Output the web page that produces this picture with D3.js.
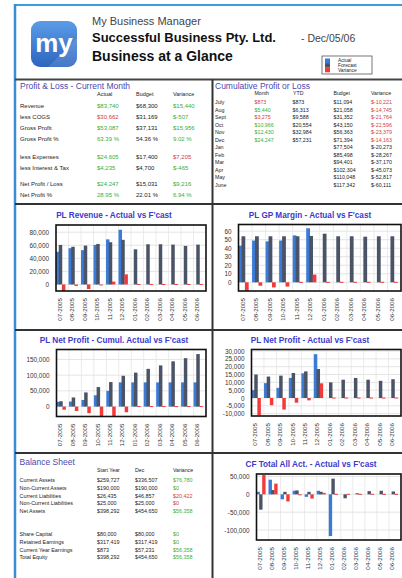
<!DOCTYPE html>
<html>
<head>
<meta charset="utf-8">
<script src="https://d3js.org/d3.v7.min.js"></script>
<style>
  body { margin: 0; background: #fff; }
  svg { display: block; font-family: "Liberation Sans", Arial, sans-serif; }
  .tbl-title { font-size: 8.5px; fill: #4a4aae; }
  .chart-title { font-size: 8.2px; font-weight: bold; fill: #3b3bcc; }
  .tick text { font-size: 6.4px; fill: #333; }
  .xlab { font-size: 6.2px; fill: #333; }
</style>
</head>
<body>
<div id="dash"></div>
<script>
// ---------- data ----------
var months = ["07-2005","08-2005","09-2005","10-2005","11-2005","12-2005",
              "01-2006","02-2006","03-2006","04-2006","05-2006","06-2006"];

var revActual   = [50000, 55500, 52500, 60500, 69000, 83740, 0, 0, 0, 0, 0, 0];
var revForecast = [60500, 57700, 59500, 62000, 64600, 68300, 53800, 61500, 61500, 61000, 59000, 61000];
var revVariance = [-10500, -2200, -7000, -1500, 4400, 15440, 0, 0, 0, 0, 0, 0];
var revTicks = [0, 20000, 40000, 60000, 80000];

var gpActual   = [43, 49, 48, 49, 55, 63.39, 0, 0, 0, 0, 0, 0];
var gpForecast = [54, 54, 54, 54, 54, 54.36, 57, 54, 54, 53.5, 54, 54];
var gpVariance = [-10, -4, -6, -5, 0.5, 9.03, 0, 0, 0, 0, 0, 0];
var gpTicks = [0, 10, 20, 30, 40, 50, 60];

var cumActual   = [15000, 16000, 21000, 36000, 50000, 77000, 77000, 77000, 77000, 77000, 77000, 77000];
var cumForecast = [17000, 29000, 45000, 62000, 78000, 98000, 108000, 120000, 131000, 144000, 154000, 167000];
var cumVariance = [-10000, -14000, -21000, -30000, -33000, -18000, 0, 0, 0, 0, 0, 0];
var cumTicks = [0, 50000, 100000, 150000];

var npActual   = [5000, 9500, 6500, 12800, 15800, 28000, 0, 0, 0, 0, 0, 0];
var npForecast = [15000, 13700, 14300, 16000, 17000, 18500, 10000, 11700, 12800, 11700, 11000, 12000];
var npVariance = [-11000, -4600, -7400, -3000, -1500, 9400, 0, 0, 0, 0, 0, 0];
var npTicks = [-10000, -5000, 0, 5000, 10000, 15000, 20000, 25000, 30000];

var cfActual   = [7000, 41000, -14000, 10000, -7000, 10000, -117000, 0, 0, 0, 0, 0];
var cfForecast = [-43000, 12000, 7000, 11000, 7000, 7000, 44000, -11000, 3000, 9000, 10000, 8000];
var cfVariance = [54000, 30000, -20000, -1000, -12000, 4000, 0, 0, 0, 0, 0, 0];
var cfTicks = [-100000, -50000, 0, 50000];

var plRows     = ["Revenue", "less COGS", "Gross Profit", "Gross Profit %", "less Expenses",
                  "less Interest & Tax", "Net Profit / Loss", "Net Profit %"];
var plActual   = ["$83,740", "$30,662", "$53,087", "63.39 %", "$24,605", "$4,235", "$24,247", "28.95 %"];
var plBudget   = ["$68,300", "$31,169", "$37,131", "54.36 %", "$17,400", "$4,700", "$15,031", "22.01 %"];
var plVariance = ["$15,440", "$-507", "$15,956", "9.02 %", "$7,205", "$-465", "$9,216", "6.94 %"];
var plActualFav   = [1, 0, 1, 1, 1, 1, 1, 1];
var plVarianceFav = [1, 1, 1, 1, 0, 1, 1, 1];

var cumMonths   = ["July", "Aug", "Sept", "Oct", "Nov", "Dec", "Jan", "Feb", "Mar", "Apr", "May", "June"];
var cumMonth    = ["$873", "$5,440", "$3,275", "$10,966", "$12,430", "$24,247"];
var cumMonthFav = [0, 1, 0, 1, 1, 1];
var cumYTD      = ["$873", "$6,313", "$9,588", "$20,554", "$32,984", "$57,231"];
var cumBudget   = ["$11,094", "$21,058", "$31,352", "$43,150", "$56,363", "$71,394",
                   "$77,504", "$85,498", "$94,401", "$102,304", "$110,048", "$117,342"];
var cumVar      = ["$-10,221", "$-14,745", "$-21,764", "$-22,596", "$-23,379", "$-14,163",
                   "$-20,273", "$-28,267", "$-37,170", "$-45,073", "$-52,817", "$-60,111"];

var bsRows  = ["Current Assets", "Non-Current Assets", "Current Liabilities", "Non-Current Liabilities",
               "Net Assets", "Share Capital", "Retained Earnings", "Current Year Earnings", "Total Equity"];
var bsStart = ["$259,727", "$190,000", "$26,435", "$25,000", "$398,292", "$80,000", "$317,419", "$873", "$398,292"];
var bsDec   = ["$336,507", "$190,000", "$46,857", "$25,000", "$454,650", "$80,000", "$317,419", "$57,231", "$454,650"];
var bsVar   = ["$76,780", "$0", "$20,422", "$0", "$56,358", "$0", "$0", "$56,358", "$56,358"];
var bsVarFav = [1, 1, 0, 0, 1, 1, 1, 1, 1];

var legendItems = ["Actual", "Forecast", "Variance"];

// ---------- colours ----------
var cActual = "#3b7bd6", cForecast = "#4b5367", cVariance = "#f23a3a";
var cGood = "#3aae3a", cBad = "#d23c44", cInk = "#222";

var fmt = d3.formatLocale({decimal: ".", thousands: ",", grouping: [3], currency: ["$", ""], minus: "-"}).format(",");

var svg = d3.select("#dash").append("svg")
  .attr("width", 402)
  .attr("height", 578);

svg.append("rect").attr("width", 402).attr("height", 578).attr("fill", "#fff");

// ---------- frame lines ----------
function hline(y, x1, x2, col, w) {
  svg.append("line").attr("x1", x1).attr("x2", x2).attr("y1", y).attr("y2", y)
    .attr("stroke", col).attr("stroke-width", w);
}
function vline(x, y1, y2, col, w) {
  svg.append("line").attr("x1", x).attr("x2", x).attr("y1", y1).attr("y2", y2)
    .attr("stroke", col).attr("stroke-width", w);
}
hline(5, 14, 402, "#3d9be0", 2);
vline(15, 4, 578, "#3a8fd4", 2.5);
hline(79.5, 15, 402, "#444", 2);
hline(204, 15, 402, "#333", 2);
hline(330, 15, 402, "#333", 2);
hline(453, 15, 402, "#333", 2);
vline(212.5, 79.5, 578, "#333", 2);

// ---------- header ----------
var defs = svg.append("defs");
var grad = defs.append("linearGradient").attr("id", "logoGrad")
  .attr("x1", 0).attr("y1", 0).attr("x2", 0).attr("y2", 1);
grad.append("stop").attr("offset", "0%").attr("stop-color", "#5b9ce6");
grad.append("stop").attr("offset", "100%").attr("stop-color", "#2e65bf");
defs.append("clipPath").attr("id", "logoClip")
  .append("rect").attr("x", 31).attr("y", 21).attr("width", 46).attr("height", 46).attr("rx", 9);

var logo = svg.append("g").attr("clip-path", "url(#logoClip)");
logo.append("rect").attr("x", 31).attr("y", 21).attr("width", 46).attr("height", 46).attr("fill", "url(#logoGrad)");
logo.append("path").attr("d", "M48,67 L77,38 L77,67 Z").attr("fill", "#fff").attr("opacity", 0.12);
svg.append("text").attr("x", 54).attr("y", 52).attr("text-anchor", "middle")
  .style("font-size", "26px").style("font-weight", "bold").attr("fill", "#fff").text("my");

svg.append("text").attr("x", 92).attr("y", 25).style("font-size", "11px").attr("fill", "#444")
  .text("My Business Manager");
svg.append("text").attr("x", 92).attr("y", 42).style("font-size", "13px").style("font-weight", "bold")
  .attr("fill", "#111").text("Successful Business Pty. Ltd.");
svg.append("text").attr("x", 301).attr("y", 42).style("font-size", "10.5px").attr("fill", "#444")
  .text("- Dec/05/06");
svg.append("text").attr("x", 92).attr("y", 61).style("font-size", "14px").style("font-weight", "bold")
  .attr("fill", "#111").text("Business at a Glance");

// legend
var lg = svg.append("g");
lg.append("rect").attr("x", 322).attr("y", 56).attr("width", 50).attr("height", 18)
  .attr("fill", "#fff").attr("stroke", "#555").attr("stroke-width", 0.8);
var legCols = [cActual, cForecast, cVariance];
lg.selectAll("rect.sw").data(legendItems).enter().append("rect").attr("class", "sw")
  .attr("x", 325).attr("y", function(d, i) { return 58.5 + i * 4.6; })
  .attr("width", 5).attr("height", 4.6)
  .attr("fill", function(d, i) { return legCols[i]; });
lg.selectAll("text").data(legendItems).enter().append("text")
  .attr("x", 338).attr("y", function(d, i) { return 62 + i * 5; })
  .style("font-size", "4.8px").attr("fill", "#222").text(function(d) { return d; });

// ---------- tables ----------
function cell(x, y, txt, col, size) {
  svg.append("text").attr("x", x).attr("y", y).style("font-size", size + "px")
    .attr("fill", col || cInk).text(txt);
}

// profit & loss
svg.append("text").attr("class", "tbl-title").attr("x", 20).attr("y", 89).text("Profit & Loss - Current Month");
cell(97, 96, "Actual", cInk, 5.5);
cell(136, 96, "Budget", cInk, 5.5);
cell(173, 96, "Variance", cInk, 5.5);
plRows.forEach(function(r, i) {
  var y = 108 + i * 11 + (i > 3 ? 6.5 : 0) + (i > 5 ? 5.5 : 0);
  cell(20, y, r, cInk, 6);
  cell(97, y, plActual[i], plActualFav[i] ? cGood : cBad, 6);
  cell(136, y, plBudget[i], cInk, 6);
  cell(173, y, plVariance[i], plVarianceFav[i] ? cGood : cBad, 6);
});

// cumulative
svg.append("text").attr("class", "tbl-title").attr("x", 215).attr("y", 89).text("Cumulative Profit or Loss");
cell(254.5, 95, "Month", cInk, 5.2);
cell(293, 95, "YTD", cInk, 5.2);
cell(333.5, 95, "Budget", cInk, 5.2);
cell(371, 95, "Variance", cInk, 5.2);
cumMonths.forEach(function(m, i) {
  var y = 104 + i * 7.5;
  cell(215, y, m, cInk, 5.3);
  if (i < cumMonth.length) {
    cell(254.5, y, cumMonth[i], cumMonthFav[i] ? cGood : cBad, 5.3);
    cell(292.5, y, cumYTD[i], cInk, 5.3);
  }
  cell(333.5, y, cumBudget[i], cInk, 5.3);
  cell(371, y, cumVar[i], i < cumMonth.length ? cBad : cInk, 5.3);
});

// balance sheet
svg.append("text").attr("class", "tbl-title").attr("x", 19.5).attr("y", 465).text("Balance Sheet");
cell(97, 472, "Start Year", cInk, 5.2);
cell(135, 472, "Dec", cInk, 5.2);
cell(173, 472, "Variance", cInk, 5.2);
bsRows.forEach(function(r, i) {
  var y = 482 + i * 7.8 + (i > 4 ? 15 : 0);
  cell(19.5, y, r, cInk, 5.4);
  cell(97, y, bsStart[i], cInk, 5.4);
  cell(135, y, bsDec[i], cInk, 5.4);
  cell(173, y, bsVar[i], bsVarFav[i] ? cGood : cBad, 5.4);
});

// ---------- charts ----------
var clipId = 0;
function drawChart(c) {
  var g = svg.append("g");
  var x = d3.scaleBand().domain(months).range([c.L, c.R]).padding(0);
  var y = d3.scaleLinear().domain(c.domain).range([c.B, c.T]);
  var b = x.bandwidth(), w = b * 0.28;
  var ctr = function(i) { return x(months[i]) + b * 0.36; };

  g.append("text").attr("class", "chart-title").attr("x", c.tx).attr("y", c.ty)
    .attr("text-anchor", "middle").text(c.title);

  // grid
  g.selectAll("line.hg").data(c.ticks).enter().append("line").attr("class", "hg")
    .attr("x1", c.L).attr("x2", c.R).attr("y1", function(d) { return y(d); }).attr("y2", function(d) { return y(d); })
    .attr("stroke", "#d9d9d9").attr("stroke-width", 0.7);
  g.selectAll("line.vg").data(months.slice(1)).enter().append("line").attr("class", "vg")
    .attr("x1", function(d) { return x(d); }).attr("x2", function(d) { return x(d); })
    .attr("y1", c.T).attr("y2", c.B).attr("stroke", "#e2e2e2").attr("stroke-width", 0.7);

  clipId++;
  g.append("clipPath").attr("id", "clip" + clipId)
    .append("rect").attr("x", c.L).attr("y", c.T).attr("width", c.R - c.L).attr("height", c.B - c.T);
  var bars = g.append("g").attr("clip-path", "url(#clip" + clipId + ")");

  var series = [
    {vals: c.actual, col: cActual, off: -0.78, minH: 0},
    {vals: c.forecast, col: cForecast, off: 0, minH: 0},
    {vals: c.variance, col: cVariance, off: 0.9, minH: 1}
  ];
  series.forEach(function(s) {
    bars.selectAll(null).data(s.vals).enter().append("rect")
      .attr("x", function(d, i) { return ctr(i) + s.off * w - w / 2; })
      .attr("y", function(d) { return Math.min(y(d), y(0)) - (d === 0 ? s.minH / 2 : 0); })
      .attr("width", w)
      .attr("height", function(d) { return Math.max(Math.abs(y(d) - y(0)), s.minH); })
      .attr("fill", s.col);
  });

  g.append("rect").attr("x", c.L).attr("y", c.T).attr("width", c.R - c.L).attr("height", c.B - c.T)
    .attr("fill", "none").attr("stroke", "#111").attr("stroke-width", 1.6);

  var ax = g.append("g").attr("transform", "translate(" + c.L + ",0)")
    .call(d3.axisLeft(y).tickValues(c.ticks).tickSize(0).tickPadding(7).tickFormat(fmt));
  ax.select(".domain").remove();

  g.selectAll("text.xlab").data(months).enter().append("text").attr("class", "xlab")
    .attr("transform", function(d, i) { return "translate(" + (ctr(i) - 1) + "," + (c.B + 7) + ") rotate(-90)"; })
    .attr("text-anchor", "end").attr("dy", "0.35em").text(function(d) { return d; });
}

drawChart({title: "PL Revenue - Actual vs F'cast", tx: 114, ty: 217.5,
  L: 56, T: 225, R: 206, B: 291, domain: [-10000, 91000], ticks: revTicks,
  actual: revActual, forecast: revForecast, variance: revVariance});
drawChart({title: "PL GP Margin - Actual vs F'cast", tx: 310, ty: 217.5,
  L: 238.5, T: 224.5, R: 401, B: 291, domain: [-10.2, 67.8], ticks: gpTicks,
  actual: gpActual, forecast: gpForecast, variance: gpVariance});
drawChart({title: "PL Net Profit - Cumul. Actual vs F'cast", tx: 114, ty: 342.5,
  L: 56.5, T: 349.5, R: 206, B: 416.5, domain: [-31600, 181600], ticks: cumTicks,
  actual: cumActual, forecast: cumForecast, variance: cumVariance});
drawChart({title: "PL Net Profit - Actual vs F'cast", tx: 310, ty: 342.5,
  L: 251.5, T: 349.5, R: 401, B: 416, domain: [-11500, 31000], ticks: npTicks,
  actual: npActual, forecast: npForecast, variance: npVariance});
drawChart({title: "CF Total All Act. - Actual vs F'cast", tx: 311, ty: 467,
  L: 256.5, T: 474, R: 401, B: 540, domain: [-128000, 57000], ticks: cfTicks,
  actual: cfActual, forecast: cfForecast, variance: cfVariance});
</script>
</body>
</html>
